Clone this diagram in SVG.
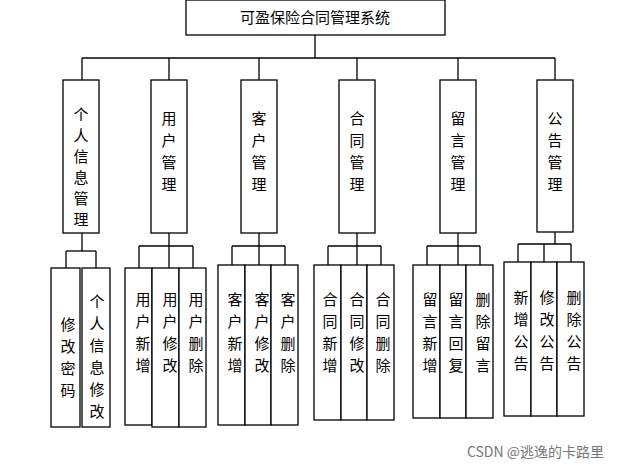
<svg xmlns="http://www.w3.org/2000/svg" width="618" height="471" viewBox="0 0 618 471">
<style>
rect{fill:#fff;stroke:#000;stroke-width:1.3}
line{stroke:#000;stroke-width:1.3}
text{font-family:"Noto Sans CJK SC","Noto Sans CJK JP",sans-serif;font-size:15px;fill:#000;text-anchor:middle}
.w{font-size:14px;fill:#777;text-anchor:end}
</style>
<rect width="618" height="471" style="fill:#fff;stroke:none"/>
<g id="connectors">
<line x1="315" y1="35" x2="315" y2="58"/><line x1="82" y1="58" x2="555" y2="58"/>
<line x1="82" y1="58" x2="82" y2="80"/><line x1="169" y1="58" x2="169" y2="80"/><line x1="259" y1="58" x2="259" y2="80"/><line x1="357" y1="58" x2="357" y2="80"/><line x1="458" y1="58" x2="458" y2="80"/><line x1="555" y1="58" x2="555" y2="80"/>
<line x1="82" y1="233" x2="82" y2="251"/><line x1="66" y1="251" x2="96" y2="251"/><line x1="66" y1="251" x2="66" y2="268"/><line x1="96" y1="251" x2="96" y2="268"/>
<line x1="169" y1="233" x2="169" y2="246"/><line x1="139" y1="246" x2="193" y2="246"/><line x1="139" y1="246" x2="139" y2="268"/><line x1="169" y1="246" x2="169" y2="268"/><line x1="193" y1="246" x2="193" y2="268"/>
<line x1="259" y1="233" x2="259" y2="246"/><line x1="232" y1="246" x2="285" y2="246"/><line x1="232" y1="246" x2="232" y2="265"/><line x1="259" y1="246" x2="259" y2="265"/><line x1="285" y1="246" x2="285" y2="265"/>
<line x1="357" y1="233" x2="357" y2="246"/><line x1="328" y1="246" x2="381" y2="246"/><line x1="328" y1="246" x2="328" y2="265"/><line x1="357" y1="246" x2="357" y2="265"/><line x1="381" y1="246" x2="381" y2="265"/>
<line x1="458" y1="233" x2="458" y2="246"/><line x1="427" y1="246" x2="480" y2="246"/><line x1="427" y1="246" x2="427" y2="265"/><line x1="458" y1="246" x2="458" y2="265"/><line x1="480" y1="246" x2="480" y2="265"/>
<line x1="555" y1="232" x2="555" y2="244"/><line x1="518" y1="244" x2="571" y2="244"/><line x1="518" y1="244" x2="518" y2="262"/><line x1="544" y1="244" x2="544" y2="262"/><line x1="571" y1="244" x2="571" y2="262"/>
</g>
<g id="root"><rect x="186" y="0" width="259" height="35"/><text x="315" y="23">可盈保险合同管理系统</text></g>
<g id="n1"><rect x="63" y="80" width="36" height="153"/><text x="81" y="120">个</text><text x="81" y="141">人</text><text x="81" y="162">信</text><text x="81" y="183">息</text><text x="81" y="204">管</text><text x="81" y="225">理</text></g>
<g id="n2"><rect x="151" y="80" width="36" height="153"/><text x="169" y="124">用</text><text x="169" y="146">户</text><text x="169" y="168">管</text><text x="169" y="190">理</text></g>
<g id="n3"><rect x="241" y="80" width="36" height="153"/><text x="259" y="124">客</text><text x="259" y="146">户</text><text x="259" y="168">管</text><text x="259" y="190">理</text></g>
<g id="n4"><rect x="339" y="80" width="36" height="153"/><text x="357" y="124">合</text><text x="357" y="146">同</text><text x="357" y="168">管</text><text x="357" y="190">理</text></g>
<g id="n5"><rect x="440" y="80" width="36" height="153"/><text x="458" y="124">留</text><text x="458" y="146">言</text><text x="458" y="168">管</text><text x="458" y="190">理</text></g>
<g id="n6"><rect x="537" y="80" width="36" height="152"/><text x="555" y="124">公</text><text x="555" y="146">告</text><text x="555" y="168">管</text><text x="555" y="190">理</text></g>
<g id="m1"><rect x="51" y="268" width="29" height="159"/><text x="68" y="330">修</text><text x="68" y="352">改</text><text x="68" y="374">密</text><text x="68" y="396">码</text></g>
<g id="m2"><rect x="82" y="268" width="28" height="159"/><text x="97" y="307">个</text><text x="97" y="329">人</text><text x="97" y="351">信</text><text x="97" y="373">息</text><text x="97" y="395">修</text><text x="97" y="417">改</text></g>
<g id="u1"><rect x="125" y="268" width="27" height="157"/><text x="143" y="305">用</text><text x="143" y="327">户</text><text x="143" y="349">新</text><text x="143" y="371">增</text></g>
<g id="u2"><rect x="152" y="268" width="27" height="159"/><text x="170" y="305">用</text><text x="170" y="327">户</text><text x="170" y="349">修</text><text x="170" y="371">改</text></g>
<g id="u3"><rect x="179" y="268" width="27" height="159"/><text x="196" y="305">用</text><text x="196" y="327">户</text><text x="196" y="349">删</text><text x="196" y="371">除</text></g>
<g id="c1"><rect x="218" y="265" width="27" height="160"/><text x="235" y="305">客</text><text x="235" y="327">户</text><text x="235" y="349">新</text><text x="235" y="371">增</text></g>
<g id="c2"><rect x="245" y="265" width="26" height="160"/><text x="262" y="305">客</text><text x="262" y="327">户</text><text x="262" y="349">修</text><text x="262" y="371">改</text></g>
<g id="c3"><rect x="271" y="265" width="27" height="160"/><text x="288" y="305">客</text><text x="288" y="327">户</text><text x="288" y="349">删</text><text x="288" y="371">除</text></g>
<g id="h1"><rect x="314" y="265" width="27" height="155"/><text x="330" y="305">合</text><text x="330" y="327">同</text><text x="330" y="349">新</text><text x="330" y="371">增</text></g>
<g id="h2"><rect x="341" y="265" width="26" height="155"/><text x="357" y="305">合</text><text x="357" y="327">同</text><text x="357" y="349">修</text><text x="357" y="371">改</text></g>
<g id="h3"><rect x="367" y="265" width="27" height="155"/><text x="383" y="305">合</text><text x="383" y="327">同</text><text x="383" y="349">删</text><text x="383" y="371">除</text></g>
<g id="l1"><rect x="413" y="265" width="27" height="153"/><text x="430" y="305">留</text><text x="430" y="327">言</text><text x="430" y="349">新</text><text x="430" y="371">增</text></g>
<g id="l2"><rect x="440" y="265" width="26" height="153"/><text x="456" y="305">留</text><text x="456" y="327">言</text><text x="456" y="349">回</text><text x="456" y="371">复</text></g>
<g id="l3"><rect x="466" y="265" width="27" height="153"/><text x="483" y="305">删</text><text x="483" y="327">除</text><text x="483" y="349">留</text><text x="483" y="371">言</text></g>
<g id="g1"><rect x="504" y="262" width="27" height="154"/><text x="521" y="303">新</text><text x="521" y="325">增</text><text x="521" y="347">公</text><text x="521" y="369">告</text></g>
<g id="g2"><rect x="531" y="262" width="26" height="154"/><text x="547" y="303">修</text><text x="547" y="325">改</text><text x="547" y="347">公</text><text x="547" y="369">告</text></g>
<g id="g3"><rect x="557" y="262" width="27" height="154"/><text x="574" y="303">删</text><text x="574" y="325">除</text><text x="574" y="347">公</text><text x="574" y="369">告</text></g>
<text class="w" x="604" y="457">CSDN @逃逸的卡路里</text>
</svg>
